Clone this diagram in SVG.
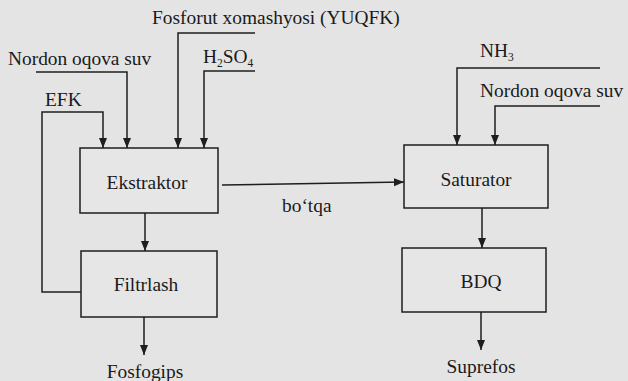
<svg xmlns="http://www.w3.org/2000/svg" width="628" height="381" viewBox="0 0 628 381" font-family="'Liberation Serif', 'Times New Roman', serif">
<style>
.bg{fill:#e4e4e4}
.box{fill:#e6e6e6;stroke:#1e1e1e;stroke-width:1.5}
.ln{fill:none;stroke:#1e1e1e;stroke-width:1.5}
text{font-family:'Liberation Serif','Times New Roman',serif;font-size:19.4px;fill:#1a1a1a}
.c{text-anchor:middle}
.sub{font-size:11.5px}
</style>
<defs>
<marker id="ah" viewBox="0 0 10 10" refX="10" refY="5" markerWidth="10" markerHeight="10" markerUnits="userSpaceOnUse" orient="auto">
<path d="M0,1 L10,5 L0,9 Z" fill="#1e1e1e"/>
</marker>
</defs>
<rect class="bg" x="0" y="0" width="628" height="381"/>
<g id="connectors">
<polyline class="ln" points="81,292 42,292 42,112 103,112 103,148" marker-end="url(#ah)"/>
<polyline class="ln" points="36,72 127,72 127,148" marker-end="url(#ah)"/>
<polyline class="ln" points="255,33 178,33 178,148" marker-end="url(#ah)"/>
<polyline class="ln" points="255,71 204,71 204,148" marker-end="url(#ah)"/>
<line class="ln" x1="145" y1="213" x2="145" y2="251" marker-end="url(#ah)"/>
<line class="ln" x1="144" y1="317" x2="144" y2="355" marker-end="url(#ah)"/>
<line class="ln" x1="222" y1="185" x2="404" y2="182" marker-end="url(#ah)"/>
<polyline class="ln" points="600,68 457,68 457,145" marker-end="url(#ah)"/>
<polyline class="ln" points="600,106 495,106 495,145" marker-end="url(#ah)"/>
<line class="ln" x1="482" y1="208" x2="482" y2="248" marker-end="url(#ah)"/>
<line class="ln" x1="481" y1="312" x2="481" y2="350" marker-end="url(#ah)"/>
</g>
<g id="ekstraktor">
<rect class="box" x="80" y="148" width="138" height="65"/>
<text class="c" x="147" y="189">Ekstraktor</text>
</g>
<g id="filtrlash">
<rect class="box" x="81" y="251" width="136" height="66"/>
<text class="c" x="146" y="291">Filtrlash</text>
</g>
<g id="saturator">
<rect class="box" x="404" y="145" width="144" height="63"/>
<text class="c" x="476" y="186">Saturator</text>
</g>
<g id="bdq">
<rect class="box" x="402" y="248" width="144" height="64"/>
<text class="c" x="481" y="288">BDQ</text>
</g>
<g id="labels">
<text x="152" y="24">Fosforut xomashyosi (YUQFK)</text>
<text x="8" y="65">Nordon oqova suv</text>
<text x="203" y="63">H<tspan class="sub" dy="4">2</tspan><tspan dy="-4">SO</tspan><tspan class="sub" dy="4">4</tspan></text>
<text x="45" y="106">EFK</text>
<text x="282" y="212">bo‘tqa</text>
<text x="480" y="57">NH<tspan class="sub" dy="4">3</tspan></text>
<text x="480" y="97">Nordon oqova suv</text>
<text class="c" x="145" y="378">Fosfogips</text>
<text class="c" x="481" y="373">Suprefos</text>
</g>
</svg>
